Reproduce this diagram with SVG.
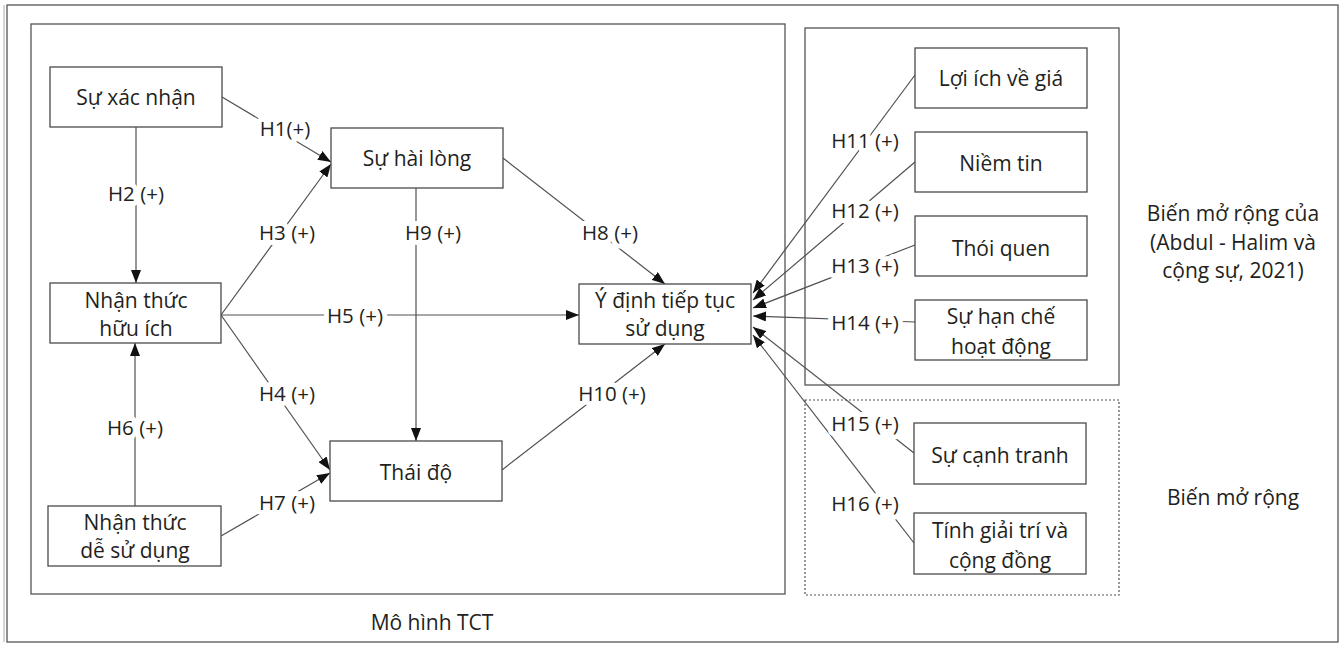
<svg xmlns="http://www.w3.org/2000/svg" width="1341" height="647" viewBox="0 0 1341 647">
<style>
.box{fill:#fff;stroke:#4a4a4a;stroke-width:1.3}
.frame{fill:none;stroke:#555;stroke-width:1.3}
.t{font-family:"Open Sans","Noto Sans",sans-serif;font-size:21px;fill:#231f20;text-anchor:middle;dominant-baseline:central}
.lbl{font-family:"Open Sans","Noto Sans",sans-serif;font-size:20.5px;fill:#231f20;text-anchor:middle;dominant-baseline:central;stroke:#fff;stroke-width:10;paint-order:stroke;stroke-linejoin:round}
.c{stroke:#505050;stroke-width:1.2;fill:none;marker-end:url(#arr)}
</style>
<defs>
<marker id="arr" markerUnits="userSpaceOnUse" markerWidth="14" markerHeight="10" refX="13" refY="5" orient="auto">
<path d="M0,0 L13,5 L0,10 z" fill="#111"/>
</marker>
</defs>
<rect x="0" y="0" width="1341" height="647" fill="#fff"/>
<rect class="frame" x="7" y="5" width="1331" height="637" stroke="#888"/>
<line x1="4" y1="5" x2="4" y2="642" stroke="#aaa" stroke-width="1"/>
<rect class="frame" x="31" y="24" width="754" height="570"/>
<rect class="frame" x="805" y="28" width="314" height="357"/>
<rect x="805" y="400" width="314" height="195" fill="none" stroke="#555" stroke-width="1.2" stroke-dasharray="2,2"/>
<text class="t" x="432" y="622">Mô hình TCT</text>
<g id="note1">
<text class="t" x="1233" y="213">Biến mở rộng của</text>
<text class="t" x="1233" y="242">(Abdul - Halim và</text>
<text class="t" x="1233" y="270">cộng sự, 2021)</text>
</g>
<text class="t" x="1233" y="497">Biến mở rộng</text>
<g id="connectors">
<line class="c" x1="222" y1="97" x2="331" y2="162"/>
<line class="c" x1="221" y1="315" x2="331" y2="164"/>
<line class="c" x1="136" y1="127" x2="136" y2="283"/>
<line class="c" x1="221" y1="315" x2="579" y2="315"/>
<line class="c" x1="221" y1="315" x2="330" y2="470"/>
<line class="c" x1="135" y1="506" x2="135" y2="343"/>
<line class="c" x1="221" y1="536" x2="330" y2="473"/>
<line class="c" x1="416" y1="188" x2="416" y2="441"/>
<line class="c" x1="503" y1="158" x2="665" y2="284"/>
<line class="c" x1="502" y1="470" x2="665" y2="344"/>
<line class="c" x1="915" y1="75" x2="753" y2="293"/>
<line class="c" x1="915" y1="162" x2="753" y2="300"/>
<line class="c" x1="915" y1="245" x2="753" y2="308"/>
<line class="c" x1="915" y1="322" x2="753" y2="316"/>
<line class="c" x1="914" y1="453" x2="753" y2="327"/>
<line class="c" x1="914" y1="543" x2="753" y2="335"/>
<text class="lbl" x="285" y="128">H1(+)</text>
<text class="lbl" x="136" y="193">H2 (+)</text>
<text class="lbl" x="287" y="232">H3 (+)</text>
<text class="lbl" x="287" y="393">H4 (+)</text>
<text class="lbl" x="355" y="315">H5 (+)</text>
<text class="lbl" x="135" y="427">H6 (+)</text>
<text class="lbl" x="287" y="502">H7 (+)</text>
<text class="lbl" x="610" y="232">H8 (+)</text>
<text class="lbl" x="433" y="232">H9 (+)</text>
<text class="lbl" x="612" y="393">H10 (+)</text>
<text class="lbl" x="865" y="140">H11 (+)</text>
<text class="lbl" x="865" y="210">H12 (+)</text>
<text class="lbl" x="865" y="265">H13 (+)</text>
<text class="lbl" x="865" y="322">H14 (+)</text>
<text class="lbl" x="865" y="423">H15 (+)</text>
<text class="lbl" x="865" y="503">H16 (+)</text>
</g>
<g id="n_xacnhan"><rect class="box" x="50" y="67" width="172" height="60"/><text class="t" x="136" y="97">Sự xác nhận</text></g>
<g id="n_huuich"><rect class="box" x="50" y="283" width="171" height="60"/><text class="t" x="136" y="300">Nhận thức</text><text class="t" x="136" y="328">hữu ích</text></g>
<g id="n_desudung"><rect class="box" x="48" y="506" width="173" height="60"/><text class="t" x="135" y="522">Nhận thức</text><text class="t" x="135" y="550">dễ sử dụng</text></g>
<g id="n_hailong"><rect class="box" x="331" y="128" width="172" height="60"/><text class="t" x="417" y="158">Sự hài lòng</text></g>
<g id="n_thaido"><rect class="box" x="330" y="441" width="172" height="60"/><text class="t" x="416" y="472">Thái độ</text></g>
<g id="n_ydinh"><rect class="box" x="579" y="284" width="172" height="60"/><text class="t" x="665" y="300">Ý định tiếp tục</text><text class="t" x="665" y="328">sử dụng</text></g>
<g id="n_loiich"><rect class="box" x="915" y="48" width="172" height="60"/><text class="t" x="1001" y="78">Lợi ích về giá</text></g>
<g id="n_niemtin"><rect class="box" x="915" y="132" width="172" height="60"/><text class="t" x="1001" y="163">Niềm tin</text></g>
<g id="n_thoiquen"><rect class="box" x="915" y="216" width="172" height="60"/><text class="t" x="1001" y="248">Thói quen</text></g>
<g id="n_hanche"><rect class="box" x="915" y="300" width="172" height="60"/><text class="t" x="1001" y="316">Sự hạn chế</text><text class="t" x="1001" y="346">hoạt động</text></g>
<g id="n_canhtranh"><rect class="box" x="914" y="423" width="172" height="61"/><text class="t" x="1000" y="455">Sự cạnh tranh</text></g>
<g id="n_giaitri"><rect class="box" x="914" y="513" width="172" height="61"/><text class="t" x="1000" y="530">Tính giải trí và</text><text class="t" x="1000" y="560">cộng đồng</text></g>
</svg>
